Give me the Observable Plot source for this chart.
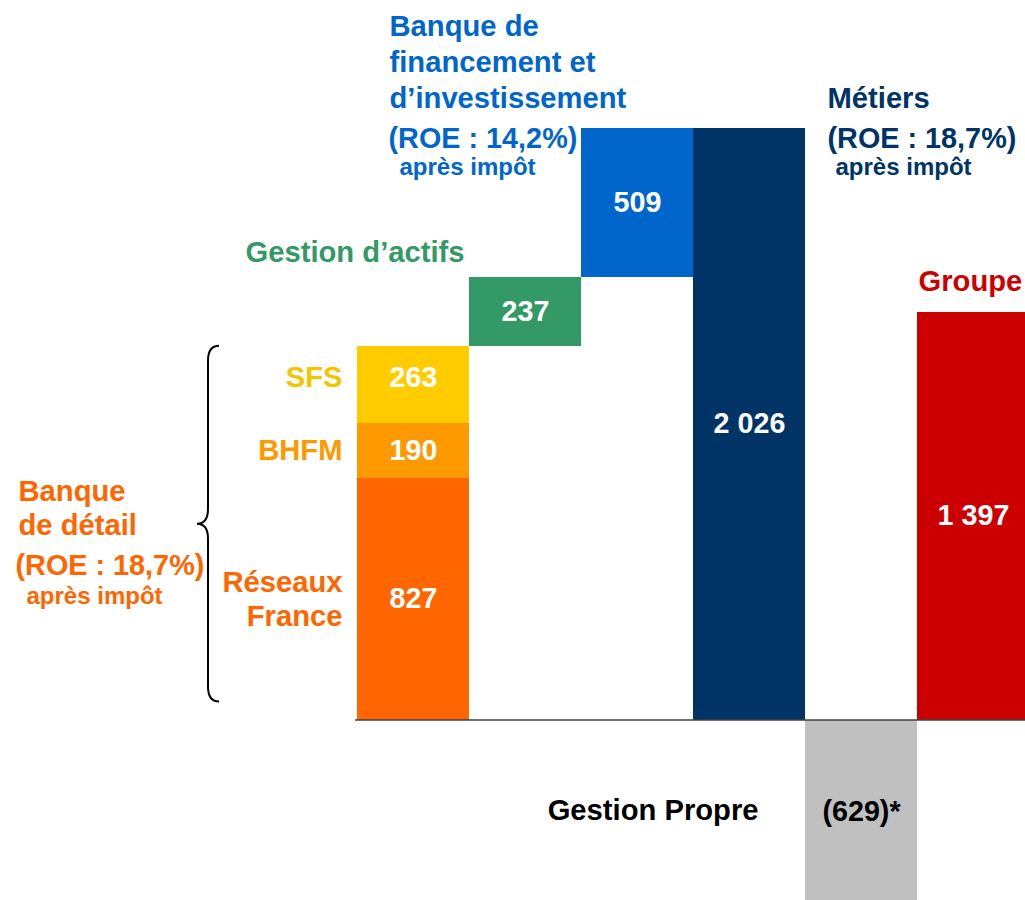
<!DOCTYPE html>
<html>
<head>
<meta charset="utf-8">
<script src="https://cdn.jsdelivr.net/npm/d3@7"></script>
<script src="https://cdn.jsdelivr.net/npm/@observablehq/plot@0.6"></script>
<style>
html, body { margin: 0; padding: 0; background: #fff; overflow: hidden; }
#chart svg { display: block; }
</style>
</head>
<body>
<div id="chart"></div>
<script>
// ---- Data ----
const segments = ["Réseaux France", "BHFM", "SFS", "Gestion d’actifs",
  "Banque de financement et d’investissement", "Métiers", "Gestion Propre", "Groupe"];
const columns = ["Banque de détail", "Banque de détail", "Banque de détail", "Gestion d’actifs",
  "Banque de financement et d’investissement", "Métiers", "Gestion Propre", "Groupe"];
const values = [827, 190, 263, 237, 509, 2026, -629, 1397];
const valueLabels = ["827", "190", "263", "237", "509", "2 026", "(629)*", "1 397"];
const cumulative = [true, true, true, true, true, false, false, false];
const segmentTitles = ["Réseaux\nFrance", "BHFM", "SFS", "Gestion d’actifs",
  "Banque de\nfinancement et\nd’investissement", "Métiers", "Gestion Propre", "Groupe"];
const retailTitle = "Banque\nde détail";
const roeRetail = "(ROE : 18,7%)";
const roeBFI = "(ROE : 14,2%)";
const roeMetiers = "(ROE : 18,7%)";
const afterTax = "après impôt";

// ---- Styles ----
const palette = ["#FF6600", "#FF9900", "#FFCC00", "#339966", "#0066CC", "#003366", "#C0C0C0", "#CC0000"];
const titleColors = ["#FF6600", "#FF9900", "#F5C400", "#339966", "#0066CC", "#003366", "#000000", "#CC0000"];
const FS = 29.2;

// ---- Waterfall table ----
let run = 0;
const rows = segments.map((s, i) => {
  let y1, y2;
  if (cumulative[i]) { y1 = run; y2 = run + values[i]; run = y2; }
  else { y1 = 0; y2 = values[i]; }
  return {segment: s, column: columns[i], label: valueLabels[i], y1, y2, mid: (y1 + y2) / 2};
});

const font = {fontWeight: "bold", lineAnchor: "bottom"};
function note(i, text, y, opts) {
  return Plot.text([rows[i]], {x: "column", y, text: () => text, fontSize: FS, ...font, ...opts});
}

function brace(index, scales) {
  const x0 = scales.x(columns[0]);
  const top = scales.y(rows[2].y2);
  const bottom = scales.y(0) - 18;
  const mid = (top + bottom) / 2;
  const xe = x0 - 138, xs = x0 - 149, xt = x0 - 160, r = 15;
  const p = d3.path();
  p.moveTo(xe, top);
  p.quadraticCurveTo(xs, top, xs, top + r);
  p.lineTo(xs, mid - r);
  p.quadraticCurveTo(xs, mid, xt, mid);
  p.quadraticCurveTo(xs, mid, xs, mid + r);
  p.lineTo(xs, bottom - r);
  p.quadraticCurveTo(xs, bottom, xe, bottom);
  const el = document.createElementNS("http://www.w3.org/2000/svg", "path");
  el.setAttribute("d", p.toString());
  el.setAttribute("fill", "none");
  el.setAttribute("stroke", "#000");
  el.setAttribute("stroke-width", "2");
  return el;
}

const valueText = {x: "column", y: "mid", text: "label", fontSize: FS - 0.5, fontWeight: "bold",
  fill: (d) => d.segment === "Gestion Propre" ? "#000" : "#fff"};

const chart = Plot.plot({
  width: 1025,
  height: 900,
  marginLeft: 355,
  marginRight: 0,
  marginTop: 0,
  marginBottom: 0,
  style: {fontFamily: "'Liberation Sans', Arial, sans-serif", background: "#fff"},
  x: {axis: null, domain: Array.from(new Set(columns)), range: [355, 1030.6], padding: 0},
  y: {axis: null, domain: [0, 2026], range: [719.5, 128]},
  color: {domain: segments, range: palette},
  marks: [
    Plot.barY(rows, {x: "column", y1: "y1", y2: "y2", fill: "segment", shapeRendering: "crispEdges"}),
    Plot.ruleY([0], {stroke: "#404040", strokeWidth: 1.5}),
    Plot.text(rows, {...valueText, filter: (d, i) => i !== 2}),
    Plot.text(rows, {...valueText, filter: (d, i) => i === 2, dy: -7}),
    // Retail segment titles
    note(0, segmentTitles[0], "mid", {dx: -71, dy: 27, textAnchor: "end", lineHeight: 1.18, fill: titleColors[0]}),
    note(1, segmentTitles[1], "mid", {dx: -71, dy: 9, textAnchor: "end", fill: titleColors[1]}),
    note(2, segmentTitles[2], "mid", {dx: -71, dy: 2.5, textAnchor: "end", fill: titleColors[2]}),
    // Retail group
    note(0, retailTitle, "mid", {dx: -395, dy: -64, textAnchor: "start", lineHeight: 1.17, fill: titleColors[0]}),
    note(0, roeRetail, "mid", {dx: -398, dy: -24, textAnchor: "start", fontSize: 28.8, fill: titleColors[0]}),
    note(0, afterTax, "mid", {dx: -387, dy: 5, textAnchor: "start", fontSize: 24, fill: titleColors[0]}),
    // Gestion d'actifs
    note(3, segmentTitles[3], "y2", {dx: -61, dy: -15, textAnchor: "end", fill: titleColors[3]}),
    // BFI
    note(4, segmentTitles[4], "y2", {dx: -248, dy: -21, textAnchor: "start", lineHeight: 1.22, fill: titleColors[4]}),
    note(4, roeBFI, "y2", {dx: -249, dy: 19, textAnchor: "start", fontSize: 28.8, fill: titleColors[4]}),
    note(4, afterTax, "y2", {dx: -238, dy: 46, textAnchor: "start", fontSize: 24, fill: titleColors[4]}),
    // Métiers
    note(5, segmentTitles[5], "y2", {dx: 78, dy: -21, textAnchor: "start", fill: titleColors[5]}),
    note(5, roeMetiers, "y2", {dx: 78, dy: 19, textAnchor: "start", fontSize: 28.8, fill: titleColors[5]}),
    note(5, afterTax, "y2", {dx: 86, dy: 46, textAnchor: "start", fontSize: 24, fill: titleColors[5]}),
    // Gestion propre
    note(6, segmentTitles[6], "mid", {dx: -103, dy: 8, textAnchor: "end", fill: titleColors[6]}),
    // Groupe
    note(7, segmentTitles[7], "y2", {dx: -55, dy: -21, textAnchor: "start", fill: titleColors[7]}),
    brace
  ]
});
document.getElementById("chart").appendChild(chart);
</script>
</body>
</html>
